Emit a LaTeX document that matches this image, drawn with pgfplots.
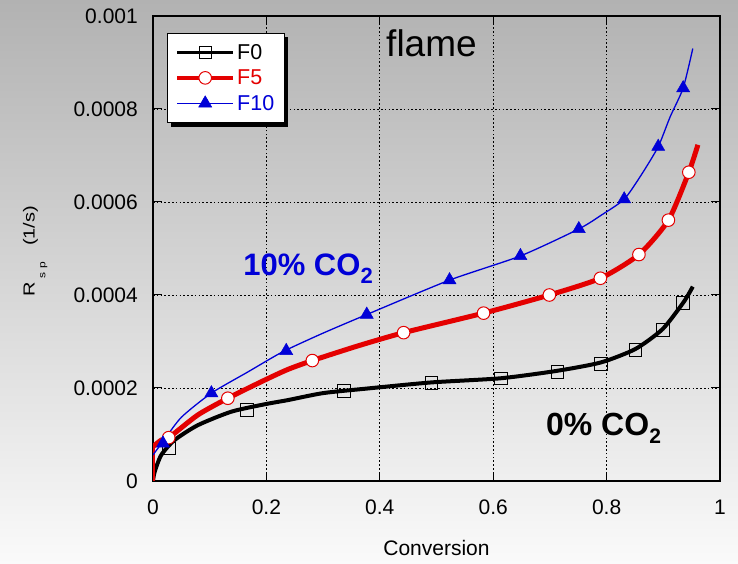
\documentclass[border=0pt]{standalone}
\usepackage{fontspec}
\setmainfont{Liberation Sans}
\usepackage{pgfplots}
\pgfplotsset{compat=1.18}
\definecolor{myred}{RGB}{228,0,0}
\definecolor{myblue}{RGB}{0,0,215}
\definecolor{bgtop}{RGB}{178,178,178}
\definecolor{bgmid}{RGB}{234,234,234}
\definecolor{bgbot}{RGB}{250,250,250}
\begin{document}
\begin{tikzpicture}
\shade[top color=bgtop, middle color=bgmid, bottom color=bgbot] (0pt,0pt) rectangle (738pt,564pt);
\begin{axis}[
  at={(153pt,83pt)}, anchor=south west,
  scale only axis, width=567pt, height=465pt,
  xmin=0, xmax=1, ymin=0, ymax=0.001,
  xtick={0,0.2,0.4,0.6,0.8,1}, xticklabels={0,0.2,0.4,0.6,0.8,1},
  ytick={0,0.0002,0.0004,0.0006,0.0008,0.001},
  yticklabels={0,0.0002,0.0004,0.0006,0.0008,0.001},
  scaled y ticks=false, scaled x ticks=false,
  tick label style={font=\fontsize{21}{25}\selectfont, inner sep=0pt},
  yticklabel style={xshift=-15pt},
  xticklabel style={yshift=-19pt},
  xlabel={Conversion},
  xlabel style={at={(axis description cs:0.5,0)}, anchor=north, inner sep=0pt, yshift=-59pt, font=\fontsize{21}{25}\selectfont},
  grid=major,
  major grid style={black, line width=0.7pt, dash pattern=on 1.6pt off 2.2pt},
  tick align=inside, major tick length=9pt,
  tick style={black, line width=1pt},
  axis line style={line width=1.2pt},
  legend image code/.code={\draw[mark repeat=2,mark phase=2,#1] plot coordinates {(0pt,0pt) (28pt,0pt) (56pt,0pt)};},
  legend style={name=leg, at={(0.0247,0.9634)}, anchor=north west, draw=black, fill=white,
    font=\fontsize{21.5}{25}\selectfont, row sep=5pt, inner xsep=8pt, inner ysep=9pt,
    nodes={inner sep=2pt}},
  legend cell align=left,
]
\addlegendimage{black, line width=3.3pt, mark=square, mark size=6pt, mark options={line width=0.8pt, fill=white}}
\addlegendentry{F0}
\addlegendimage{myred, line width=4pt, mark=*, mark size=6.3pt, mark options={line width=1pt, fill=white, draw=myred}}
\addlegendentry[text=myred]{F5}
\addlegendimage{myblue, line width=1pt, mark=triangle*, mark size=7.5pt, mark options={line width=0.5pt, fill=myblue}}
\addlegendentry[text=myblue]{F10}

% F0 curve
\addplot[forget plot, black, line width=4pt, smooth, tension=0.4] table {
0 0
0.003 0.00002
0.0146 0.000056
0.038 0.000088
0.079 0.000120
0.138 0.000149
0.197 0.000165
0.238 0.000174
0.3 0.000189
0.379 0.000199
0.491 0.000212
0.614 0.000221
0.713 0.000237
0.79 0.000255
0.851 0.000284
0.899 0.000327
0.936 0.000385
0.952 0.000418
};
\addplot[forget plot, only marks, black, mark=square, mark size=6.3pt, line width=0.8pt] table {
0.028 0.0000703
0.166 0.000153
0.337 0.000194
0.491 0.000211
0.614 0.000221
0.713 0.000235
0.79 0.000252
0.851 0.000282
0.899 0.000325
0.935 0.000383
};
% F5 curve
\addplot[forget plot, myred, line width=4pt] table {
0 0
0 0.000074
};
\addplot[forget plot, myred, line width=5pt, smooth, tension=0.4] table {
0 0.000074
0.0146 0.000088
0.0277 0.000093
0.079 0.000142
0.132 0.000178
0.197 0.000217
0.238 0.00024
0.281 0.000259
0.36 0.00029
0.442 0.000319
0.583 0.000361
0.699 0.0004
0.789 0.000436
0.857 0.000487
0.909 0.000561
0.945 0.000664
0.961 0.000723
};
\addplot[forget plot, only marks, mark=*, mark size=6.3pt, line width=1pt, draw=myred, fill=white] table {
0.0277 0.0000932
0.132 0.000178
0.281 0.000259
0.442 0.000319
0.583 0.000361
0.699 0.0004
0.789 0.000436
0.857 0.000487
0.909 0.000561
0.945 0.000664
};
% F10 curve
\addplot[forget plot, myblue, line width=1.3pt, smooth, tension=0.4] table {
0 0.000056
0.0176 0.000085
0.05 0.000137
0.103 0.000189
0.168 0.000235
0.229 0.000278
0.3 0.000318
0.377 0.000358
0.523 0.000432
0.648 0.000484
0.751 0.000542
0.791 0.000572
0.831 0.000606
0.861 0.000658
0.891 0.000719
0.912 0.000783
0.935 0.000845
0.952 0.00093
};
\addplot[forget plot, only marks, mark=triangle*, mark size=7.5pt, line width=0.5pt, draw=myblue, fill=myblue] table {
0.0176 0.000081
0.103 0.000189
0.235 0.00028
0.377 0.000358
0.523 0.000432
0.648 0.000484
0.751 0.000542
0.831 0.000606
0.891 0.000719
0.935 0.000845
};
\node[anchor=base west, inner sep=0pt, font=\fontsize{37}{40}\selectfont] at (axis cs:0.411,0.000912) {flame};
\node[anchor=base west, inner sep=0pt, text=myblue, font=\bfseries\fontsize{31}{34}\selectfont] at (axis cs:0.159,0.000443) {10\% CO\raisebox{-0.26em}{\fontsize{22}{22}\selectfont 2}};
\node[anchor=base west, inner sep=0pt, text=black, font=\bfseries\fontsize{32}{34}\selectfont] at (axis cs:0.693,0.0000968) {0\% CO\raisebox{-0.24em}{\fontsize{21}{21}\selectfont 2}};
\end{axis}
\fill[black] ([shift={(0pt,-4pt)}]leg.north east) rectangle ([shift={(4pt,-4pt)}]leg.south east);
\fill[black] ([shift={(4pt,0pt)}]leg.south west) rectangle ([shift={(4pt,-4pt)}]leg.south east);
\node[rotate=90, anchor=base west, inner sep=0pt, font=\fontsize{20}{24}\selectfont] at (34.5pt,267.3pt) {\scalebox{1}[0.8]{R\hspace{4pt}\raisebox{-13.5pt}{\fontsize{12}{12}\selectfont s\hspace{3.5pt}p}\hspace{16pt}(1/s)}};
\pgfresetboundingbox
\useasboundingbox (0pt,0pt) rectangle (738pt,564pt);
\end{tikzpicture}
\end{document}
